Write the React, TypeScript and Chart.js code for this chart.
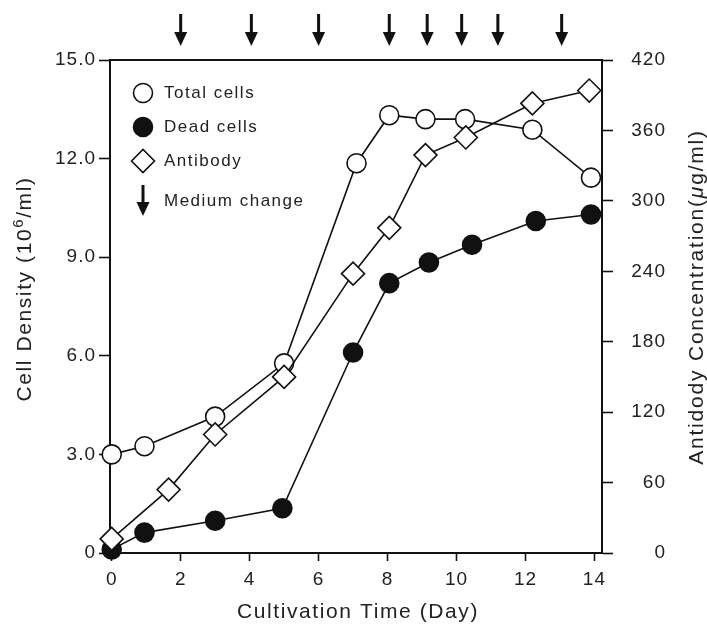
import React, { useEffect, useRef } from 'react';
import { Chart, registerables } from 'chart.js';

Chart.register(...registerables);

// ---- Data ----
const totalDays = [0, 0.95, 3, 5, 7.1, 8.05, 9.1, 10.25, 12.2, 13.9];
const totalCells = [3.0, 3.25, 4.15, 5.77, 11.86, 13.32, 13.2, 13.2, 12.88, 11.42];

const deadDays = [0, 0.95, 3, 4.95, 7.0, 8.05, 9.2, 10.45, 12.3, 13.9];
const deadCells = [0.11, 0.62, 0.98, 1.36, 6.1, 8.21, 8.84, 9.38, 10.1, 10.3];

const antibodyDays = [0, 1.65, 3, 5, 7, 8.05, 9.1, 10.27, 12.2, 13.85];
const antibodyConc = [12, 54, 101, 150, 238, 277, 339, 354, 383, 394];

const mediumChangeDays = [2, 4.05, 6, 8.05, 9.15, 10.15, 11.2, 13.05];

const xTicks = [0, 2, 4, 6, 8, 10, 12, 14];
const yTicks = [0, 3, 6, 9, 12, 15];
const yTickLabels = ['0', '3.0', '6.0', '9.0', '12.0', '15.0'];
const y2Ticks = [0, 60, 120, 180, 240, 300, 360, 420];

const legendLabels = ['Total cells', 'Dead cells', 'Antibody', 'Medium change'];
const xTitle = 'Cultivation Time (Day)';
const yTitleParts = ['Cell Density (10', '6', '/ml)'];
const y2TitleParts = ['Antidody Concentration(', 'μ', 'g/ml)'];

const INK = '#111';
const TEXT = '#222';
const FAMILY = "'Liberation Sans', Arial, sans-serif";

function drawArrow(ctx: CanvasRenderingContext2D, x: number, top: number, bottom: number) {
  const headLen = 14;
  const headHalf = 6.5;
  ctx.fillStyle = INK;
  ctx.fillRect(x - 1.5, top, 3, bottom - top - headLen + 2);
  ctx.beginPath();
  ctx.moveTo(x - headHalf, bottom - headLen);
  ctx.lineTo(x + headHalf, bottom - headLen);
  ctx.lineTo(x, bottom);
  ctx.closePath();
  ctx.fill();
}

function drawRotatedParts(
  ctx: CanvasRenderingContext2D,
  cx: number,
  cy: number,
  parts: { text: string; font: string; dy: number }[],
  spacing: number
) {
  ctx.save();
  ctx.translate(cx, cy);
  ctx.rotate(-Math.PI / 2);
  (ctx as any).letterSpacing = spacing + 'px';
  ctx.textBaseline = 'middle';
  ctx.textAlign = 'left';
  let total = 0;
  const widths: number[] = [];
  for (const p of parts) {
    ctx.font = p.font;
    const w = ctx.measureText(p.text).width;
    widths.push(w);
    total += w;
  }
  let x = -total / 2;
  parts.forEach((p, i) => {
    ctx.font = p.font;
    ctx.fillStyle = TEXT;
    ctx.fillText(p.text, x, p.dy);
    x += widths[i];
  });
  ctx.restore();
}

const decorPlugin = {
  id: 'decor',
  beforeUpdate(chart: any) {
    chart.ctx.letterSpacing = '1px';
  },
  beforeDraw(chart: any) {
    chart.ctx.letterSpacing = '1px';
  },
  beforeDatasetsDraw(chart: any) {
    const { ctx, chartArea } = chart;
    ctx.save();
    ctx.strokeStyle = INK;
    ctx.lineWidth = 2;
    ctx.beginPath();
    ctx.moveTo(chartArea.left - 1, chartArea.top);
    ctx.lineTo(chartArea.right + 1, chartArea.top);
    ctx.stroke();
    ctx.restore();
  },
  afterDraw(chart: any) {
    const { ctx, chartArea, scales } = chart;
    ctx.save();

    // medium change arrows above the plot
    for (const d of mediumChangeDays) {
      const x = scales.x.getPixelForValue(d);
      drawArrow(ctx, x, 14, 46);
    }

    // legend
    const lx = 143;
    const rows = [93, 127, 161, 201];
    ctx.lineWidth = 1.6;
    ctx.strokeStyle = INK;
    ctx.beginPath();
    ctx.arc(lx, rows[0], 9.5, 0, Math.PI * 2);
    ctx.fillStyle = '#fff';
    ctx.fill();
    ctx.stroke();
    ctx.beginPath();
    ctx.arc(lx, rows[1], 9.5, 0, Math.PI * 2);
    ctx.fillStyle = INK;
    ctx.fill();
    ctx.stroke();
    ctx.beginPath();
    ctx.moveTo(lx - 11.5, rows[2]);
    ctx.lineTo(lx, rows[2] - 11.5);
    ctx.lineTo(lx + 11.5, rows[2]);
    ctx.lineTo(lx, rows[2] + 11.5);
    ctx.closePath();
    ctx.fillStyle = '#fff';
    ctx.fill();
    ctx.stroke();
    drawArrow(ctx, lx, 185, 216);

    ctx.letterSpacing = '1.5px';
    ctx.font = `17px ${FAMILY}`;
    ctx.fillStyle = TEXT;
    ctx.textAlign = 'left';
    ctx.textBaseline = 'middle';
    legendLabels.forEach((t, i) => ctx.fillText(t, 164, rows[i]));

    // bottom title
    ctx.letterSpacing = '1.6px';
    ctx.font = `21px ${FAMILY}`;
    ctx.textAlign = 'center';
    ctx.fillText(xTitle, (chartArea.left + chartArea.right) / 2 + 2, 612);
    ctx.restore();

    drawRotatedParts(
      ctx,
      25,
      289,
      [
        { text: yTitleParts[0], font: `21px ${FAMILY}`, dy: 0 },
        { text: yTitleParts[1], font: `15px ${FAMILY}`, dy: -6 },
        { text: yTitleParts[2], font: `21px ${FAMILY}`, dy: 0 },
      ],
      1.6
    );
    drawRotatedParts(
      ctx,
      697,
      297,
      [
        { text: y2TitleParts[0], font: `21px ${FAMILY}`, dy: 0 },
        { text: y2TitleParts[1], font: `italic 21px ${FAMILY}`, dy: 0 },
        { text: y2TitleParts[2], font: `21px ${FAMILY}`, dy: 0 },
      ],
      1.8
    );
  },
};

export default function App() {
  const ref = useRef<HTMLCanvasElement | null>(null);

  useEffect(() => {
    if (!ref.current) return;
    const pointsOf = (xs: number[], ys: number[]) => xs.map((x, i) => ({ x, y: ys[i] }));
    const tickFont = { family: FAMILY, size: 19 };
    const gridOpts = {
      display: true,
      drawOnChartArea: false,
      drawTicks: true,
      tickLength: 11,
      tickWidth: 1.6,
      tickColor: INK,
    };
    const borderOpts = { display: true, color: INK, width: 2 };

    const chart = new Chart(ref.current, {
      type: 'scatter',
      data: {
        datasets: [
          {
            label: legendLabels[2],
            data: pointsOf(antibodyDays, antibodyConc),
            yAxisID: 'y2',
            showLine: true,
            borderColor: INK,
            borderWidth: 1.6,
            pointStyle: 'rectRot',
            pointRadius: 11.5,
            pointBackgroundColor: '#fff',
            pointBorderColor: INK,
            pointBorderWidth: 1.6,
            clip: false,
          },
          {
            label: legendLabels[0],
            data: pointsOf(totalDays, totalCells),
            yAxisID: 'y',
            showLine: true,
            borderColor: INK,
            borderWidth: 1.6,
            pointStyle: 'circle',
            pointRadius: 9.5,
            pointBackgroundColor: '#fff',
            pointBorderColor: INK,
            pointBorderWidth: 1.6,
            clip: false,
          },
          {
            label: legendLabels[1],
            data: pointsOf(deadDays, deadCells),
            yAxisID: 'y',
            showLine: true,
            borderColor: INK,
            borderWidth: 1.6,
            pointStyle: 'circle',
            pointRadius: 9.5,
            pointBackgroundColor: INK,
            pointBorderColor: INK,
            pointBorderWidth: 1.6,
            clip: false,
          },
        ],
      },
      options: {
        responsive: false,
        animation: false,
        events: [],
        layout: { padding: { top: 60, left: 0, right: 41, bottom: 0 } },
        plugins: {
          legend: { display: false },
          tooltip: { enabled: false },
          title: { display: false },
        },
        scales: {
          x: {
            type: 'linear',
            position: 'bottom',
            min: -0.05,
            max: 14.22,
            afterBuildTicks: (s: any) => {
              s.ticks = xTicks.map((v) => ({ value: v }));
            },
            afterFit: (s: any) => {
              s.height = 74;
            },
            grid: { ...gridOpts, tickLength: 8 },
            border: borderOpts,
            ticks: {
              color: TEXT,
              font: tickFont,
              padding: 7,
              maxRotation: 0,
              autoSkip: false,
              callback: (v: any, i: number) => String(xTicks[i]),
            },
          },
          y: {
            type: 'linear',
            position: 'left',
            min: 0,
            max: 15,
            afterBuildTicks: (s: any) => {
              s.ticks = yTicks.map((v) => ({ value: v }));
            },
            afterFit: (s: any) => {
              s.width = 110;
            },
            grid: gridOpts,
            border: borderOpts,
            ticks: {
              color: TEXT,
              font: tickFont,
              padding: 3,
              autoSkip: false,
              callback: (v: any, i: number) => yTickLabels[i],
            },
          },
          y2: {
            type: 'linear',
            position: 'right',
            min: 0,
            max: 420,
            afterBuildTicks: (s: any) => {
              s.ticks = y2Ticks.map((v) => ({ value: v }));
            },
            afterFit: (s: any) => {
              s.width = 64;
            },
            grid: gridOpts,
            border: borderOpts,
            ticks: {
              color: TEXT,
              font: tickFont,
              padding: 19,
              crossAlign: 'far',
              autoSkip: false,
              callback: (v: any, i: number) => String(y2Ticks[i]),
            },
          },
        },
      } as any,
      plugins: [decorPlugin as any],
    });
    return () => chart.destroy();
  }, []);

  return (
    <div style={{ position: 'fixed', left: 0, top: 0, width: 707, height: 627, background: '#fff' }}>
      <canvas ref={ref} width={707} height={627} style={{ display: 'block' }} />
    </div>
  );
}
